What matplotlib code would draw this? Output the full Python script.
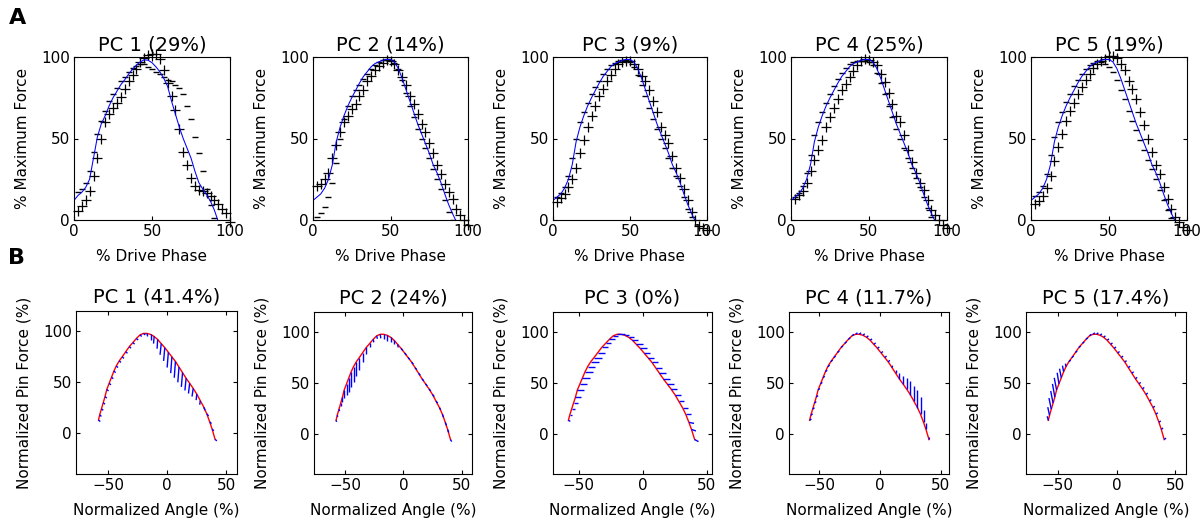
import matplotlib.pyplot as plt
from matplotlib.collections import LineCollection

plt.rcParams["font.family"] = ["DejaVu Sans"]
plt.rcParams["font.size"] = 11

# ======================================================
# Row A: force profile vs drive phase (mean +/- PC)
# ======================================================
phase = [0, 2.5, 5, 7.5, 10, 12.5, 15, 17.5, 20, 22.5, 25, 27.5, 30, 32.5, 35, 37.5,
         40, 42.5, 45, 47.5, 50, 52.5, 55, 57.5, 60, 62.5, 65, 67.5, 70, 72.5, 75,
         77.5, 80, 82.5, 85, 87.5, 90, 92.5, 95, 97.5, 100]

titles_a = ["PC 1 (29%)", "PC 2 (14%)", "PC 3 (9%)", "PC 4 (25%)", "PC 5 (19%)"]

mean_pc1 = [12, 15, 17, 20, 25, 38, 51, 59, 64, 70, 75, 79, 83, 86, 89.5, 92.5, 95, 97,
            98.3, 98, 96.5, 94, 91, 87, 82, 73, 65, 57, 50, 44, 38, 30, 23, 19, 15.5,
            11.5, 6, -1, -7, -13, -19]
mean_force = [12, 14, 16, 19.5, 25, 34, 48, 57, 64, 70, 75, 79.5, 84, 88, 91, 94, 96,
              97, 98, 98.5, 98.5, 97, 93, 87, 80, 73, 66, 59, 53, 47, 41, 34, 29, 23,
              16, 9.5, 4, -1, -5, -9, -13]

# markers sit at phase[1:]
plus_pc1 = [5.5, 8.5, 12, 18, 27, 38, 50, 60, 65, 68.5, 72, 75.5, 80.5, 85, 89, 92.5,
            97, 99.5, 101, 102, 102, 99, 92, 84, 76, 67.5, 56, 42, 34, 26, 21, 18.5,
            17.5, 16.5, 15, 12, 10, 7, 4, -1]
minus_pc1 = [17, 19, 23, 30, 42, 53, 61, 67, 73, 77, 81, 85, 88, 91, 93, 94.5, 95.5,
             95.5, 94, 92.5, 91, 89.5, 87.5, 86, 85, 83, 81, 77, 70, 62, 51, 41, 30, 19,
             9, 1, -6, -12, -18, -24]
plus_pc2 = [21, 22, 25, 29, 38, 46, 54, 60, 64, 68, 71, 76, 80, 85, 88.5, 92, 94.5,
            96.5, 98, 97.5, 96, 92, 88, 83, 76, 71, 65, 59, 54, 47, 41, 34, 28, 22, 17,
            13, 7, 3, 0, -3]
minus_pc2 = [2, 4, 8, 14, 23, 35, 50, 62, 70, 76, 79.5, 83, 86.5, 89.5, 92.5, 95, 97,
             98, 98.5, 98, 96.5, 92.5, 86, 78, 70, 63, 56, 50, 44, 38, 31, 25, 19, 12,
             5, 0, -5, -9, -13, -17]
plus_pc3 = [11, 13.5, 16, 20, 25, 32, 41, 49, 57, 64, 70, 76, 80.5, 85, 89, 92.5, 95.5,
            97, 97.5, 97.5, 96, 92.5, 88.5, 85, 80, 73, 66, 57, 52, 47, 39, 32, 26, 19,
            12, 5, 0, -3.5, -5, -6]
minus_pc3 = [14, 16.5, 20.5, 27, 38, 50, 60, 66.5, 72, 77, 81.5, 85.5, 89.5, 92.5, 95,
             96.5, 97.5, 98, 98, 97, 94, 89, 83, 76, 69, 62, 56, 50, 44, 38, 32, 27, 21,
             14, 7, 2, -3, -7, -11, -15]
plus_pc4 = [13, 15.5, 18, 22.5, 30, 37, 43, 49, 57, 63, 69, 74, 79.5, 83.5, 88, 91.5,
            95, 97.5, 98.5, 98, 97, 95, 89.5, 84.5, 78, 71, 64, 60, 52, 43, 35.5, 29,
            23, 18.5, 12, 6, 3, 0, -3, -5]
minus_pc4 = [14, 16.5, 21, 29, 40, 52, 60, 66, 72, 77, 82, 86.5, 90, 93, 95.5, 97, 97.5,
             97.5, 97.5, 97, 95, 90, 84, 77, 70, 63, 56, 50, 44, 38, 32, 26, 20, 14,
             7.5, 2, -3, -7, -11, -15]
plus_pc5 = [10, 11.5, 15, 19.5, 27, 36, 44.5, 53, 61, 67, 72, 77, 81.5, 86, 89.5, 93,
            95.5, 97.5, 99, 100.5, 100.5, 99.5, 96, 92, 85, 80.5, 74, 66, 58, 49.5,
            41.5, 34, 28, 20, 13, 7, 2, -1, -4, -6]
minus_pc5 = [14.5, 17, 21, 28, 40, 51, 60, 66.5, 72.5, 77.5, 82, 86, 89.5, 92.5, 95,
             96.5, 97.5, 97, 96, 94, 91, 86, 80, 74, 67, 61, 55, 49, 43, 37, 31, 25,
             18.5, 12, 6, 1, -4, -8, -12, -16]

means_a = [mean_pc1, mean_force, mean_force, mean_force, mean_force]
plus_a = [plus_pc1, plus_pc2, plus_pc3, plus_pc4, plus_pc5]
minus_a = [minus_pc1, minus_pc2, minus_pc3, minus_pc4, minus_pc5]

# ======================================================
# Row B: pin force vs angle (mean curve + PC vectors)
# ======================================================
titles_b = ["PC 1 (41.4%)", "PC 2 (24%)", "PC 3 (0%)", "PC 4 (11.7%)", "PC 5 (17.4%)"]

red_angle = [-58, -57, -55.5, -54, -52.5, -51, -49, -47, -45, -43, -40.5, -38, -35,
             -32, -29, -26, -23, -20, -17, -14, -11, -8, -5, -2, 1, 4, 7, 10, 13, 16,
             19, 22, 25, 28, 31, 33.5, 36, 38, 40.5]
red_force = [13, 18, 24, 30, 36, 43, 49, 55, 61, 66, 71, 75, 80, 85, 89, 93, 96.5, 98,
             98, 97, 95, 92, 88, 84, 79.5, 75, 70.5, 65, 59.5, 54, 49, 44, 38.5, 32,
             25.5, 19, 11, 4, -6]

dx_pc1 = [1.5, 1.5, 1.5, 1.5, 1.5, 1.5, 1.5, 1.5, 1.5, 1.5, 1.5, 1.5, 1.5, 1.5, 1.5,
          1.5, 1.5, 1.5, 0.5, 0, -0.5, -0.5, -1, -1, -1, -1, -1, -1, -1, -1, -1, -1,
          -0.5, -0.5, 1, 1.5, 1.5, 1.5, 1.5]
dy_pc1 = [-1.5, -1.5, -1.5, -1.5, -1.5, -1.5, -1.5, -1.5, -1.5, -1.5, -1.5, -1.5, -1.5,
          -1.5, -1.5, -1.5, -1.5, -1.5, -3, -5, -7, -9, -11, -13, -15, -16, -16, -15,
          -14, -12, -10, -8, -6, -4, -3, -2, -1.5, -1.5, -1.5]
dx_pc2 = [0.5, 0.5, 0.5, 0, 0, 0, 0, 0, 0, 0, 0, 0, 0, 0, 0, 0.5, 0.5, 0.5, 0, 0, 0, 0,
          0.5, 1.5, 1.5, 1.5, 1.5, 1.5, 1.5, 1.5, 1.5, 1.5, 1.5, 1.5, 1, 1, 1, 1, 1]
dy_pc2 = [-1.5, -1.5, -2, -3, -5, -8, -11, -14, -15, -15, -14, -12, -9, -6, -4, -3, -3,
          -4, -5, -6, -5, -4, -3, -2, -2, -2, -2, -2, -2, -2, -2, -2, -2, -2, -2, -3,
          -3, -3, -2]
dx_pc3 = [1.5, 2, 2.5, 3.5, 4.5, 5, 5.5, 6, 6, 6, 6, 6, 5.5, 5, 4.5, 4, 3.5, 3, 3, 3.5,
          4, 4.5, 5, 5, 5, 5, 5, 5, 5, 5, 5, 5, 5, 4.5, 4.5, 4.5, 4, 3.5, 3]
dy_pc3 = [-1, 0, 0, 0, 0, 0, 0, 0, 0, 0, 0, 0, 0, 0, 0, 0, 0, 0, 0, 0, 0, 0, 0, 0, 0, 0,
          0, 0, 0, 0, 0, 0, 0, 0, 0, 0, -1, -1.5, -2]
dx_pc4 = [1.5, 1.5, 1.5, 1.5, 1.5, 1.5, 1.5, 1.5, 1.5, 1.5, 1.5, 1.5, 1.5, 1.5, 1.5,
          1.5, 1.5, 1.5, 1.5, 1.5, 1.5, 1.5, 1.5, 1.5, 1.5, 1.5, 1, 0.5, 0, 0, 0, 0, 0,
          0, 0, 0, 0, 0, 0.5]
dy_pc4 = [1.5, 1.5, 1.5, 1.5, 1.5, 1.5, 1.5, 1.5, 1.5, 1.5, 1.5, 1.5, 1.5, 1.5, 1.5,
          1.5, 1.5, 1.5, 1.5, 1.5, 1.5, 1.5, 1.5, 1.5, 1.5, 1.5, 2, 2, 3, 6, 8, 11, 13,
          15, 17, 17, 12, 6, 2]
dx_pc5 = [-1, -1.5, -2, -2, -2, -2, -1.5, -1.5, -1, -0.5, 1.5, 1.5, 1.5, 1.5, 1.5, 1.5,
          1.5, 1.5, 1.5, 1.5, 1.5, 1.5, 1.5, 1.5, 1.5, 1.5, 1.5, 1.5, 1.5, 1.5, 1.5,
          1.5, 1.5, 1.5, 1.5, 1.5, 1.5, 1.5, 1.5]
dy_pc5 = [4, 8, 11, 12, 13, 12, 11, 9, 6, 3, 1.5, 1.5, 1.5, 1.5, 1.5, 1.5, 1.5, 1.5, 1.5,
          1.5, 1.5, 1.5, 1.5, 1.5, 1.5, 1.5, 1.5, 1.5, 1.5, 1.5, 1.5, 1.5, 1.5, 1.5,
          1.5, 1.5, 1.5, 1.5, 1.5]

dx_b = [dx_pc1, dx_pc2, dx_pc3, dx_pc4, dx_pc5]
dy_b = [dy_pc1, dy_pc2, dy_pc3, dy_pc4, dy_pc5]
xlim_b = [(-77, 59), (-77, 59), (-70, 54), (-75, 57), (-77, 59)]

# axes boxes in pixels: left, right, top, bottom
rects_a = [(74, 230, 57, 220), (313, 468, 57, 220), (553, 707, 57, 220),
           (791, 947, 57, 220), (1031, 1187, 57, 220)]
rects_b = [(76, 237, 311, 474), (314, 472, 312, 474), (553, 712, 312, 474),
           (789, 949, 312, 474), (1026, 1186, 312, 474)]

W, H = 1200, 520
fig = plt.figure(figsize=(12, 5.2), dpi=100)


def add_ax(box):
    l, r, t, b = box
    ax = fig.add_axes([l / W, 1 - b / H, (r - l) / W, (b - t) / H])
    ax.tick_params(direction="in", length=3, width=0.8, top=True, right=True,
                   labelsize=11, pad=3)
    for s in ax.spines.values():
        s.set_linewidth(0.8)
    return ax


for i in range(5):
    ax = add_ax(rects_a[i])
    ax.plot(phase[1:], minus_a[i], "_", color="k", ms=4.5, mew=1)
    ax.plot(phase[1:], plus_a[i], "+", color="k", ms=7, mew=0.9, clip_on=False)
    ax.plot(phase, means_a[i], color="blue", lw=0.75)
    ax.set_xlim(0, 100)
    ax.set_ylim(0, 100)
    ax.set_xticks([0, 50, 100])
    ax.set_yticks([0, 50, 100])
    ax.set_title(titles_a[i], fontsize=14, pad=5)
    ax.set_xlabel("% Drive Phase", labelpad=7)
    ax.set_ylabel("% Maximum Force", labelpad=8)

for i in range(5):
    ax = add_ax(rects_b[i])
    ax.plot(red_angle, red_force, color="red", lw=1)
    segs = [[(a, f), (a + dx, f + dy)]
            for a, f, dx, dy in zip(red_angle, red_force, dx_b[i], dy_b[i])]
    ax.add_collection(LineCollection(segs, colors="blue", linewidths=1.0))
    ax.set_xlim(*xlim_b[i])
    ax.set_ylim(-40, 120)
    ax.set_xticks([-50, 0, 50])
    ax.set_yticks([0, 50, 100])
    ax.set_title(titles_b[i], fontsize=14, pad=6)
    ax.set_xlabel("Normalized Angle (%)", labelpad=7)
    ax.set_ylabel("Normalized Pin Force (%)", labelpad=8)

fig.text(0.015, 0.965, "A", fontsize=16, fontweight="bold", ha="center", va="center")
fig.text(0.014, 0.504, "B", fontsize=16, fontweight="bold", ha="center", va="center")

fig.savefig("out.png", dpi=100)
